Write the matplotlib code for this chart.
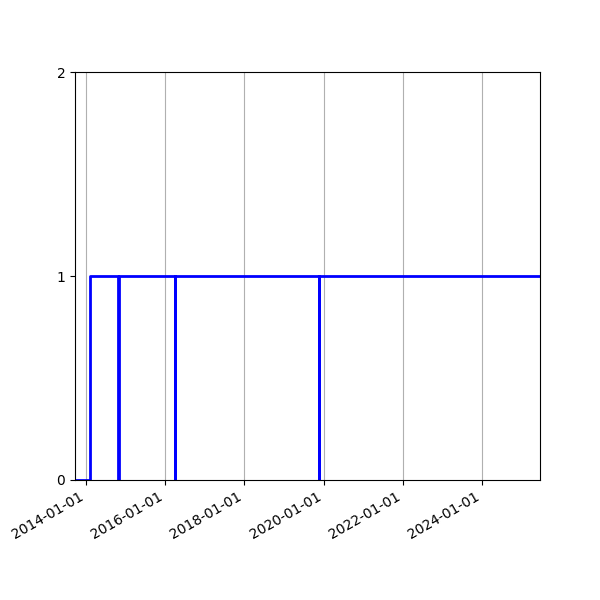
import numpy as np
import pandas as pd
import matplotlib
matplotlib.use("Agg")
from matplotlib import pyplot as plt
import matplotlib.dates as mdates

# step changes of the status signal
dates = pd.to_datetime([
    "2013-09-20", "2014-02-05",
    "2014-10-26", "2014-10-27",
    "2016-04-02", "2016-04-03",
    "2019-11-16", "2019-11-17",
    "2025-06-20",
])
values = [0, 1, 0, 1, 0, 1, 0, 1, 1]

fig, ax = plt.subplots(figsize=(6, 6), dpi=100)
ax.step(dates, values, where="post", color="b", linewidth=2)

ax.set_xlim(dates[0], dates[-1])
ax.set_ylim(0, 2)
ax.set_yticks([0, 1, 2])
ax.xaxis.set_major_locator(mdates.YearLocator(2))
ax.xaxis.set_major_formatter(mdates.DateFormatter("%Y-%m-%d"))
ax.grid(axis="x")
fig.autofmt_xdate()

fig.savefig("out.png")
